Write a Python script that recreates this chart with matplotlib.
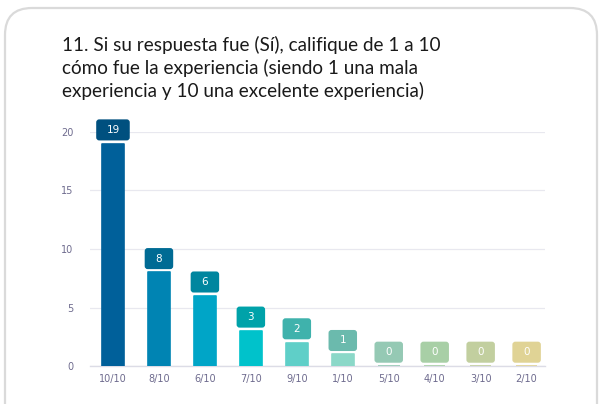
import matplotlib.pyplot as plt
from matplotlib.patches import FancyBboxPatch

# data
categories = ['10/10', '8/10', '6/10', '7/10', '9/10', '1/10', '5/10', '4/10', '3/10', '2/10']
counts = [19, 8, 6, 3, 2, 1, 0, 0, 0, 0]
bar_colors = ['#00609a', '#0084b3', '#00a5c7', '#00c2cb', '#5fcfc8', '#8bd8c8',
              '#95c9b4', '#a8cfa6', '#c2cf9f', '#e0d395']
box_colors = ['#00507f', '#006b94', '#00869f', '#00a2a9', '#3fb2ac', '#6bbaad',
              '#95c9b4', '#a8cfa6', '#c2cf9f', '#e0d395']
title = ('11. Si su respuesta fue (Sí), califique de 1 a 10\n'
         'cómo fue la experiencia (siendo 1 una mala\n'
         'experiencia y 10 una excelente experiencia)')

fig = plt.figure(figsize=(6, 4.04), dpi=100)

# card outline
card = FancyBboxPatch((5 / 600, -0.1), 592 / 600, 1.0 - 8 / 404 + 0.1,
                      boxstyle='round,pad=0,rounding_size=0.045',
                      transform=fig.transFigure, facecolor='white',
                      edgecolor='#dadada', linewidth=1.6, mutation_aspect=600 / 404,
                      zorder=-5)
fig.patches.append(card)

fig.text(62 / 600, 1 - 36 / 404, title, fontsize=13.6, family=['Lato', 'DejaVu Sans'],
         color='#1a1a1a', va='top', ha='left', linespacing=1.33)

ax = fig.add_axes([90 / 600, 38 / 404, 455 / 600, 234 / 404])
ax.set_facecolor('none')
x = list(range(len(categories)))
ax.bar(x, counts, width=0.47, color=bar_colors, edgecolor=bar_colors,
       linewidth=1.2, joinstyle='round', zorder=3)

ax.set_xlim(-0.5, 9.4)
ax.set_ylim(0, 20)

# value boxes (rounded corners, aspect corrected for data units)
asp = 46 / 11.7
for xi, v, c in zip(x, counts, box_colors):
    w = 0.62 + 0.11 * (len(str(v)) - 1)
    h = 1.8
    y0 = v + 0.28
    box = FancyBboxPatch((xi - w / 2, y0), w, h,
                         boxstyle='round,pad=0,rounding_size=0.065',
                         mutation_aspect=asp, facecolor=c, edgecolor='none',
                         clip_on=False, zorder=4)
    ax.add_patch(box)
    ax.text(xi, y0 + h / 2, str(v), ha='center', va='center', color='white',
            fontsize=7.5, zorder=5, clip_on=False)

ax.set_yticks([0, 5, 10, 15, 20])
ax.set_xticks(x)
ax.set_xticklabels(categories)
ax.tick_params(axis='both', length=0, labelsize=7, colors='#6e6b8e')
ax.tick_params(axis='y', pad=12)
ax.tick_params(axis='x', pad=6)
ax.grid(axis='y', color='#e8e8ef', linewidth=0.9, zorder=0)
for s in ['top', 'right', 'left']:
    ax.spines[s].set_visible(False)
ax.spines['bottom'].set_color('#dcdce6')
ax.spines['bottom'].set_linewidth(1.0)

fig.savefig('out.png', dpi=100)
